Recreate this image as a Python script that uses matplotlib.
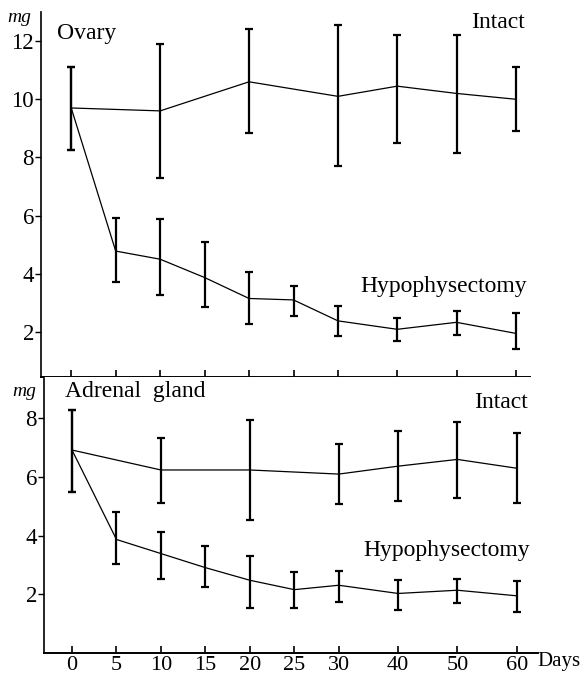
import numpy as np
import matplotlib
matplotlib.use("Agg")
import matplotlib.pyplot as plt

plt.rcParams['font.family'] = ['Liberation Serif', 'DejaVu Serif']

days = [0, 5, 10, 15, 20, 25, 30, 40, 50, 60]
days_intact = [0, 10, 20, 30, 40, 50, 60]

# ovary (mg)
ov_int = [9.7, 9.6, 10.6, 10.1, 10.45, 10.2, 10.0]
ov_int_lo = [8.25, 7.3, 8.85, 7.7, 8.5, 8.15, 8.9]
ov_int_hi = [11.1, 11.9, 12.4, 12.55, 12.2, 12.2, 11.1]
ov_hyp = [9.7, 4.78, 4.5, 3.87, 3.15, 3.1, 2.38, 2.09, 2.33, 1.95]
ov_hyp_lo = [8.25, 3.7, 3.27, 2.87, 2.27, 2.56, 1.87, 1.69, 1.9, 1.4]
ov_hyp_hi = [11.1, 5.92, 5.88, 5.08, 4.07, 3.59, 2.89, 2.49, 2.73, 2.64]

# adrenal gland (mg)
ad_int = [6.92, 6.24, 6.24, 6.1, 6.37, 6.6, 6.3]
ad_int_lo = [5.5, 5.13, 4.55, 5.08, 5.19, 5.27, 5.1]
ad_int_hi = [8.3, 7.33, 7.93, 7.11, 7.57, 7.88, 7.51]
ad_hyp = [6.92, 3.87, 3.39, 2.91, 2.48, 2.16, 2.31, 2.03, 2.14, 1.95]
ad_hyp_lo = [5.5, 3.05, 2.54, 2.25, 1.52, 1.54, 1.74, 1.48, 1.69, 1.4]
ad_hyp_hi = [8.3, 4.81, 4.11, 3.65, 3.31, 2.76, 2.79, 2.5, 2.52, 2.45]


# axis is stretched: 5-day steps up to 30, then 10-day steps
def fwd(d):
    d = np.asarray(d, dtype=float)
    return np.where(d <= 30, d, 30 + (d - 30) * 2 / 3)


def inv(u):
    u = np.asarray(u, dtype=float)
    return np.where(u <= 30, u, 30 + (u - 30) * 1.5)


def errs(m, lo, hi):
    m, lo, hi = np.array(m), np.array(lo), np.array(hi)
    return [m - lo, hi - m]


W, H = 583, 675
fig = plt.figure(figsize=(W / 100, H / 100), dpi=100)
ax1 = fig.add_axes([41 / W, (H - 377) / H, (530 - 41) / W, (377 - 12) / H])
ax2 = fig.add_axes([44 / W, (H - 653) / H, (538 - 44) / W, (653 - 377) / H])

panels = [
    (ax1, ov_int, ov_int_lo, ov_int_hi, ov_hyp, ov_hyp_lo, ov_hyp_hi),
    (ax2, ad_int, ad_int_lo, ad_int_hi, ad_hyp, ad_hyp_lo, ad_hyp_hi),
]
for ax, mi, li, hi_, mh, lh, hh in panels:
    ax.set_xscale('function', functions=(fwd, inv))
    ax.errorbar(days_intact, mi, yerr=errs(mi, li, hi_), color='black',
                lw=0.9, elinewidth=1.6, capsize=3, capthick=1.6)
    ax.errorbar(days, mh, yerr=errs(mh, lh, hh), color='black',
                lw=0.9, elinewidth=1.6, capsize=3, capthick=1.6)
    for s in ['top', 'right']:
        ax.spines[s].set_visible(False)
    ax.spines['left'].set_linewidth(1.2)
    ax.spines['bottom'].set_linewidth(1.4)
    ax.set_xticks(days)
    ax.tick_params(axis='x', direction='in', length=5, width=1.2, pad=2,
                   labelsize=16)
    ax.tick_params(axis='y', direction='out', length=4, width=1.0, pad=1,
                   labelsize=16.5)

ax1.set_xlim(-3.4, 62.4)
ax1.set_ylim(0.45, 13.0)
ax1.set_yticks([2, 4, 6, 8, 10, 12])
ax1.tick_params(axis='x', labelbottom=False)

ax2.set_xlim(-3.15, 63.6)
ax2.set_ylim(0, 9.41)
ax2.set_yticks([2, 4, 6, 8])

fs = 17
ax1.text(0.033, 0.942, 'Ovary', fontsize=fs, va='center', ha='left',
         transform=ax1.transAxes)
ax1.text(0.99, 0.97, 'Intact', fontsize=fs, va='center', ha='right',
         transform=ax1.transAxes)
ax1.text(0.994, 0.247, 'Hypophysectomy', fontsize=fs, va='center',
         ha='right', transform=ax1.transAxes)
ax1.text(-0.069, 0.984, 'mg', fontsize=14, style='italic', va='center',
         ha='left', transform=ax1.transAxes)

ax2.text(0.0425, 0.946, 'Adrenal  gland', fontsize=fs, va='center',
         ha='left', transform=ax2.transAxes)
ax2.text(0.98, 0.906, 'Intact', fontsize=fs, va='center', ha='right',
         transform=ax2.transAxes)
ax2.text(0.984, 0.373, 'Hypophysectomy', fontsize=fs, va='center',
         ha='right', transform=ax2.transAxes)
ax2.text(-0.065, 0.946, 'mg', fontsize=14, style='italic', va='center',
         ha='left', transform=ax2.transAxes)
ax2.text(0.998, -0.03, 'Days', fontsize=15, va='center', ha='left',
         transform=ax2.transAxes, clip_on=False)

fig.savefig('out.png', dpi=100)
